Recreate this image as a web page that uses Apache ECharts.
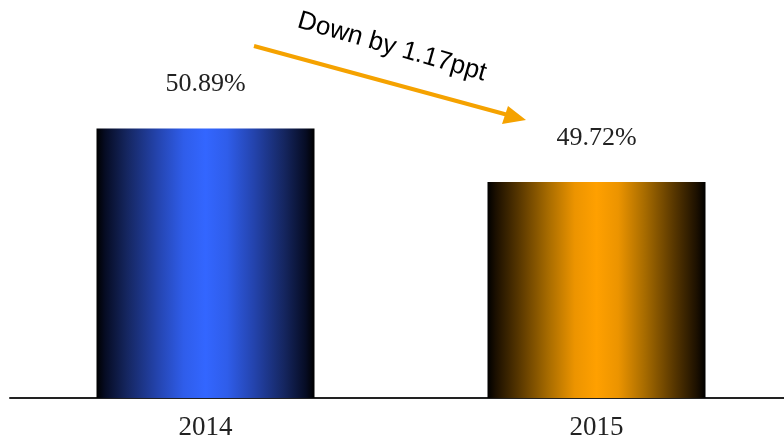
<!DOCTYPE html>
<html>
<head>
<meta charset="utf-8">
<script src="https://cdn.jsdelivr.net/npm/echarts@6/dist/echarts.min.js"></script>
<style>
  html, body { margin: 0; padding: 0; background: #ffffff; }
  #chart { width: 784px; height: 436px; }
</style>
</head>
<body>
<div id="chart"></div>
<script>
// Share (%) by year
const years = ['2014', '2015'];
const shares = [50.89, 49.72];
const annotationText = 'Down by 1.17ppt';

// Horizontal "cylinder" shading: dark edges, bright centre
function shade(center, stops) {
  const list = [];
  stops.forEach(function (s) { list.push({ offset: s[0], color: s[1] }); });
  list.push({ offset: 0.5, color: center });
  stops.slice().reverse().forEach(function (s) { list.push({ offset: 1 - s[0], color: s[1] }); });
  return new echarts.graphic.LinearGradient(0, 0, 1, 0, list);
}
const blueFill = shade('#3366ff', [
  [0, '#000000'], [0.04, '#060c24'], [0.14, '#152660'], [0.28, '#2444ae'], [0.40, '#2f5dea']
]);
const orangeFill = shade('#ffa000', [
  [0, '#000000'], [0.04, '#1c1000'], [0.14, '#553500'], [0.28, '#a86c00'], [0.40, '#ec9400']
]);
const fills = [blueFill, orangeFill];

const chart = echarts.init(document.getElementById('chart'), null, { renderer: 'canvas' });

const serif = '"Liberation Serif", "Times New Roman", serif';
const arrowColor = '#f5a200';

chart.setOption({
  animation: false,
  backgroundColor: '#ffffff',
  grid: {
    left: 10, width: 782, top: 0, height: 398,
    containLabel: false, outerBoundsMode: 'none'
  },
  xAxis: {
    type: 'category',
    data: years,
    axisTick: { show: false },
    axisLine: { show: true, lineStyle: { color: '#222222', width: 2 } },
    axisLabel: { color: '#222222', fontFamily: serif, fontSize: 27, margin: 16 }
  },
  yAxis: {
    type: 'value',
    min: 45,
    max: 53.7,
    show: false,
    splitLine: { show: false }
  },
  series: [{
    type: 'bar',
    barWidth: 218,
    data: shares.map(function (v, i) {
      return { value: v, itemStyle: { color: fills[i] } };
    }),
    label: {
      show: true,
      position: 'top',
      distance: 31,
      color: '#222222',
      fontFamily: serif,
      fontSize: 26,
      formatter: function (p) { return p.value.toFixed(2) + '%'; }
    }
  }],
  graphic: [
    {
      type: 'line',
      shape: { x1: 254, y1: 46, x2: 508, y2: 115 },
      style: { stroke: arrowColor, lineWidth: 4 }
    },
    {
      type: 'polygon',
      shape: { points: [[526, 120], [502, 124], [508, 106]] },
      style: { fill: arrowColor }
    },
    {
      type: 'text',
      x: 392,
      y: 47,
      rotation: -16 * Math.PI / 180,
      style: {
        text: annotationText,
        fill: '#000000',
        font: '26px "Liberation Sans", Arial, sans-serif',
        align: 'center',
        verticalAlign: 'middle'
      }
    }
  ]
});
</script>
</body>
</html>
